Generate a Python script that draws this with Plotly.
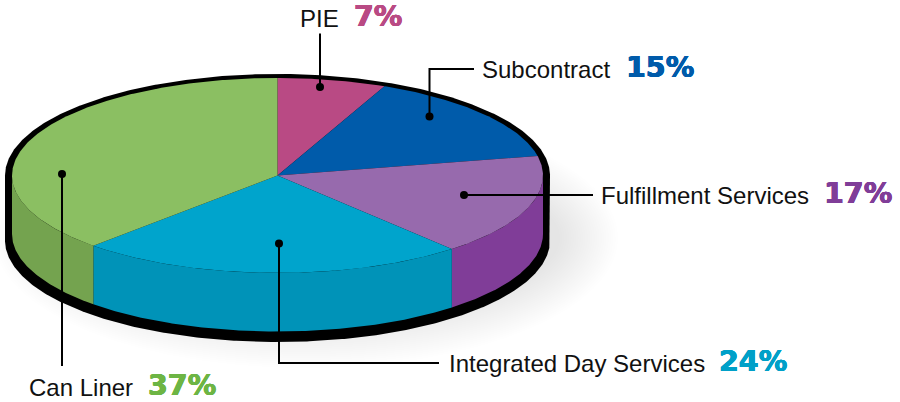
import numpy as np
import plotly.graph_objects as go

# data
categories = ["PIE", "Subcontract", "Fulfillment Services", "Integrated Day Services", "Can Liner"]
percent_labels = ["7%", "15%", "17%", "24%", "37%"]
# slice sizes as actually drawn in the picture (read from the slice edges)
drawn_shares = [6.6, 15.2, 16.8, 23.6, 37.8]

# styles
face_colors = ["#B94A84", "#005BAA", "#976AAD", "#00A4CC", "#8BBF62"]
wall_colors = ["#B94A84", "#005BAA", "#803D98", "#0093B8", "#74A34F"]
text_colors = ["#B94A84", "#005BAA", "#803D98", "#00A0C8", "#6DB544"]

W, H = 900, 402
CX, CY, RX, RY, DROP = 277.5, 175.5, 265.5, 97.5, 58.5
OUT_RX, OUT_RY, OUT_DROP = 272.5, 101.5, 65.0


def arc(t0, t1, rx=RX, ry=RY, dy=0.0, cx=CX, cy=CY):
    n = max(2, int(abs(t1 - t0) * 2) + 2)
    t = np.radians(np.linspace(t0, t1, n))
    return cx + rx * np.sin(t), cy + dy - ry * np.cos(t)


def poly(fig, x, y, color):
    fig.add_trace(go.Scatter(
        x=list(x) + [x[0]], y=list(y) + [y[0]], mode="lines", fill="toself",
        fillcolor=color, line=dict(width=0, color=color), hoverinfo="skip", showlegend=False))


fig = go.Figure()

# soft shadow, stacked translucent ellipses
for k in range(26):
    f = k / 25
    x, y = arc(0, 360, rx=312 - 58 * f, ry=130 - 50 * f, cx=306, cy=238)
    poly(fig, x, y, "rgba(90,90,90,0.009)")

# black rim
x1, y1 = arc(-90, 90, rx=OUT_RX, ry=OUT_RY)
x2, y2 = arc(90, 270, rx=OUT_RX, ry=OUT_RY, dy=OUT_DROP)
poly(fig, np.r_[x1, x2], np.r_[y1, y2], "#000000")

# slices
edges = np.cumsum([0] + drawn_shares) / sum(drawn_shares) * 360
for i in range(len(drawn_shares)):
    a0, a1 = max(edges[i], 90), min(edges[i + 1], 270)
    if a1 > a0:
        xt, yt = arc(a0, a1)
        xb, yb = arc(a1, a0, dy=DROP)
        poly(fig, np.r_[xt, xb], np.r_[yt, yb], wall_colors[i])
for i in range(len(drawn_shares)):
    xt, yt = arc(edges[i], edges[i + 1])
    poly(fig, np.r_[CX, xt], np.r_[CY, yt], face_colors[i])

# leaders
leader_paths = [
    [(320, 87), (320, 33.5)],
    [(429.5, 116.5), (429.5, 69), (474, 69)],
    [(464, 195), (593, 195)],
    [(279, 243.5), (279, 363), (439, 363)],
    [(62, 174), (62, 366)],
]
shapes = []
for pts in leader_paths:
    d = "M" + " L".join(f"{a},{b}" for a, b in pts)
    shapes.append(dict(type="path", path=d, line=dict(color="#000", width=2), layer="above"))
    a, b = pts[0]
    shapes.append(dict(type="circle", x0=a - 4, x1=a + 4, y0=b - 4, y1=b + 4,
                       fillcolor="#000", line=dict(width=0), layer="above"))

# labels: (name x, name y, percent x, percent y)
label_pos = [
    (298, 18, 352, 16),
    (480, 69, 624, 67.5),
    (599, 195, 822, 193.5),
    (447, 363, 717, 361.5),
    (27, 387, 146, 385.5),
]
ann = []
for i, (nx, ny, px, py) in enumerate(label_pos):
    c = text_colors[i]
    ann.append(dict(x=nx, y=ny, text=categories[i], showarrow=False, xanchor="left", yanchor="middle",
                    xref="x", yref="y", font=dict(family="Liberation Sans", size=24, color="#111")))
    ann.append(dict(x=px, y=py, text=f"<b>{percent_labels[i]}</b>", showarrow=False, xanchor="left",
                    yanchor="middle", xref="x", yref="y",
                    font=dict(family="DejaVu Sans", size=28.5, color=c,
                              shadow=f"0.5px 0 0 {c}, -0.5px 0 0 {c}, 0 0.4px 0 {c}, 0 -0.4px 0 {c}")))

fig.update_layout(
    width=W, height=H, margin=dict(l=0, r=0, t=0, b=0), showlegend=False,
    paper_bgcolor="#fff", plot_bgcolor="#fff", shapes=shapes, annotations=ann,
    xaxis=dict(range=[0, W], visible=False, fixedrange=True),
    yaxis=dict(range=[H, 0], visible=False, fixedrange=True),
)
fig.write_html("out.html", config={"displayModeBar": False},
               post_script="document.body.style.margin='0';document.body.style.overflow='hidden';")
